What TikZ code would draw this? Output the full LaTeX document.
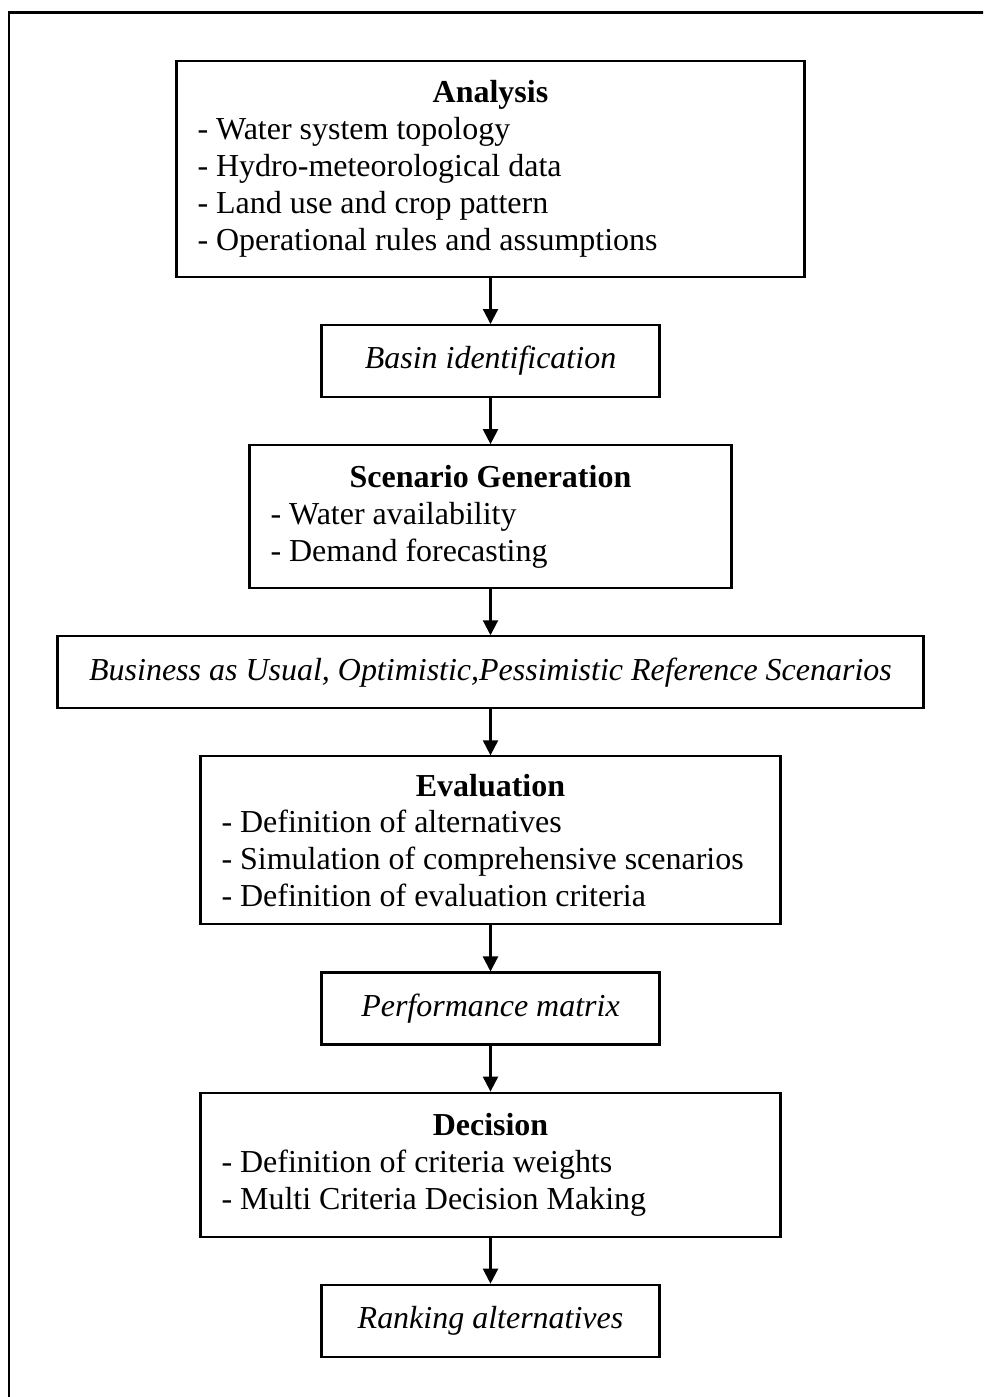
\documentclass[tikz,border=0pt]{standalone}
\usepackage{fontspec}
\setmainfont{Liberation Serif}
\usetikzlibrary{positioning,arrows.meta}

\newcommand{\flowfont}{\fontsize{9.1}{10.5}\selectfont}
\newcommand{\stagehead}[1]{\hspace*{\fill}\textbf{#1}\hspace*{\fill}\null}

\tikzset{
  stage/.style={draw, line width=0.6pt, font=\flowfont, align=flush left,
    inner xsep=0.21cm, inner ysep=0pt},
  outcome/.style={draw, line width=0.6pt, font=\flowfont\itshape,
    minimum height=0.72cm, inner sep=0pt},
  flow/.style={line width=0.6pt, -{Triangle[length=0.15cm,width=0.15cm]}}
}

\begin{document}
\begin{tikzpicture}[node distance=0.46cm]
\useasboundingbox (0,0) rectangle (9.83,13.97);
\clip (0,0) rectangle (9.83,13.97);
% Outer frame, cut off by the page
\draw[line width=0.6pt] (0.09,-1) rectangle (11,13.845);

% Stages and their results, top to bottom
\node[stage, text width=5.86cm, minimum height=2.16cm] (analysis) at (4.905,12.28)
  {\stagehead{Analysis}\\
   - Water system topology\\
   - Hydro-meteorological data\\
   - Land use and crop pattern\\
   - Operational rules and assumptions};
\node[outcome, minimum width=3.38cm, below=of analysis] (basin) {Basin identification};
\node[stage, text width=4.40cm, minimum height=1.43cm, below=of basin] (scenario)
  {\stagehead{Scenario Generation}\\
   - Water availability\\
   - Demand forecasting};
\node[outcome, minimum width=8.66cm, below=of scenario] (reference)
  {Business as Usual, Optimistic,Pessimistic Reference Scenarios};
\node[stage, text width=5.38cm, minimum height=1.68cm, below=of reference] (evaluation)
  {\stagehead{Evaluation}\\
   - Definition of alternatives\\
   - Simulation of comprehensive scenarios\\
   - Definition of evaluation criteria};
\node[outcome, minimum width=3.38cm, below=of evaluation] (matrix) {Performance matrix};
\node[stage, text width=5.38cm, minimum height=1.44cm, below=of matrix] (decision)
  {\stagehead{Decision}\\
   - Definition of criteria weights\\
   - Multi Criteria Decision Making};
\node[outcome, minimum width=3.38cm, below=of decision] (ranking) {Ranking alternatives};

% Connect each box to the next one
\foreach \from/\to in {analysis/basin, basin/scenario, scenario/reference,
    reference/evaluation, evaluation/matrix, matrix/decision, decision/ranking}
  \draw[flow] (\from) -- (\to);
\end{tikzpicture}
\end{document}
